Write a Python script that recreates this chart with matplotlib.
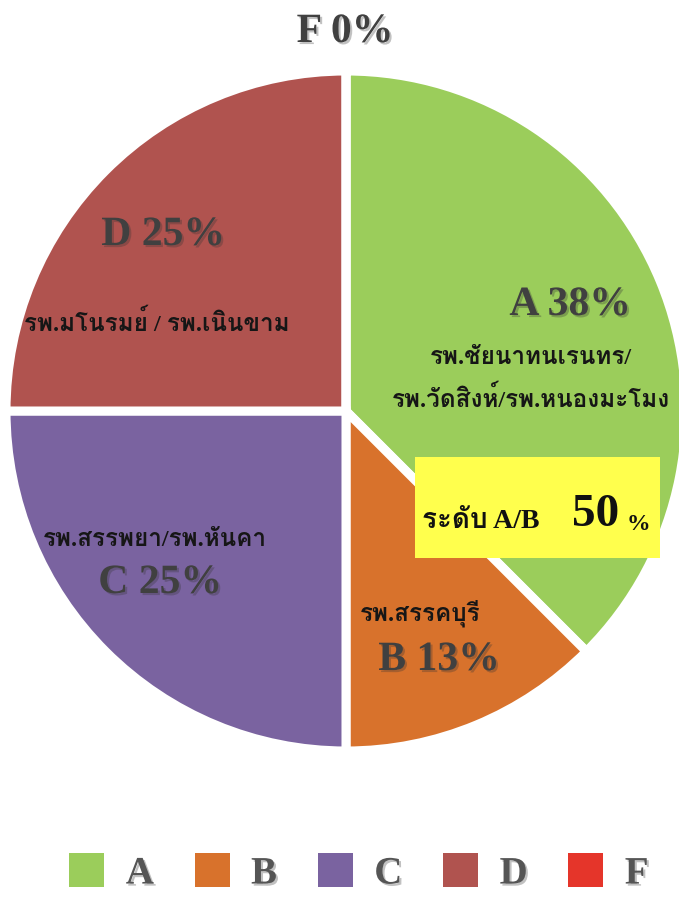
import matplotlib
matplotlib.use("Agg")
import matplotlib.pyplot as plt
from matplotlib import font_manager as fm
from matplotlib.ft2font import FT2Font
from matplotlib.patches import Patch, Rectangle
import matplotlib.patheffects as pe

# data
grades = ["A", "B", "C", "D", "F"]
counts = [3, 1, 2, 2, 0]
pct_labels = ["A 38%", "B 13%", "C 25%", "D 25%", "F 0%"]
hospitals = [
    "รพ.ชัยนาทนเรนทร/\nรพ.วัดสิงห์/รพ.หนองมะโมง",
    "รพ.สรรคบุรี",
    "รพ.สรรพยา/รพ.หันคา",
    "รพ.มโนรมย์ / รพ.เนินขาม",
    "",
]
colors = ["#9BCD5B", "#D8722C", "#7A63A0", "#B0534F", "#E5352A"]
ab_text = "ระดับ A/B"
ab_value = "50"

W, H = 679, 901


def find_thai_font():
    # look for any installed font that has Thai glyphs
    for f in fm.fontManager.ttflist:
        try:
            if 0x0E23 in FT2Font(f.fname).get_charmap():
                return f.name
        except Exception:
            pass
    return None


serif = "Liberation Serif"
thai = find_thai_font()
# latin bits in serif, thai falls through to the thai font
thai_family = [serif, thai, "DejaVu Sans"] if thai else [serif, "DejaVu Sans"]

fig = plt.figure(figsize=(W / 100, H / 100), dpi=100)
ax = fig.add_axes([0, 0, 1, 1])


def Y(y):
    return H - y


# pie, starting at 12 o'clock, going clockwise
ax.pie(counts, colors=colors, startangle=90, counterclock=False,
       center=(346, Y(411)), radius=340, frame=True,
       wedgeprops=dict(edgecolor="white", linewidth=6.5))
ax.set_xlim(0, W)
ax.set_ylim(0, H)
ax.set_aspect("equal")
ax.axis("off")

shadow = [pe.SimplePatchShadow(offset=(1.5, -1.5), shadow_rgbFace="#333333", alpha=0.3),
          pe.Normal()]
big = dict(family=serif, fontweight="bold", color="#404040", ha="center",
           va="center", fontsize=30, path_effects=shadow)
small = dict(family=thai_family, fontweight="bold", color="#161616",
             ha="center", va="center", fontsize=17.5, linespacing=1.75)

# percentage labels
big_pos = [(570, 305), (439, 660), (160, 583), (163, 235), (345, 32)]
for (x, y), s in zip(big_pos, pct_labels):
    ax.text(x, Y(y), s, **big)

# hospital names
hosp_pos = [(531, 380), (420, 613), (155, 541), (157, 323)]
for (x, y), s in zip(hosp_pos, hospitals):
    ax.text(x, Y(y), s, **small)

# yellow highlight box
ax.add_patch(Rectangle((415, Y(558)), 245, 101, facecolor="#FFFF4D",
                       edgecolor="none", zorder=3))
ax.text(481, Y(521), ab_text, family=thai_family, fontweight="bold",
        color="#111111", ha="center", va="center", fontsize=20, zorder=4)
ax.text(596, Y(515), ab_value, family=serif, fontweight="bold",
        color="#111111", ha="center", va="center", fontsize=34, zorder=4)
ax.text(638, Y(524), "%", family=serif, fontweight="bold",
        color="#111111", ha="center", va="center", fontsize=17, zorder=4)

# legend
handles = [Patch(facecolor=c, edgecolor="none") for c in colors]
leg = ax.legend(handles, grades, loc="center", bbox_to_anchor=(359 / W, 1 - 873 / H),
                ncol=5, frameon=False, handlelength=0.9, handleheight=0.95,
                handletextpad=0.55, columnspacing=1.05,
                prop=dict(family=serif, weight="bold", size=28))
for t in leg.get_texts():
    t.set_color("#555555")
    t.set_path_effects(shadow)

fig.savefig("out.png", dpi=100)
